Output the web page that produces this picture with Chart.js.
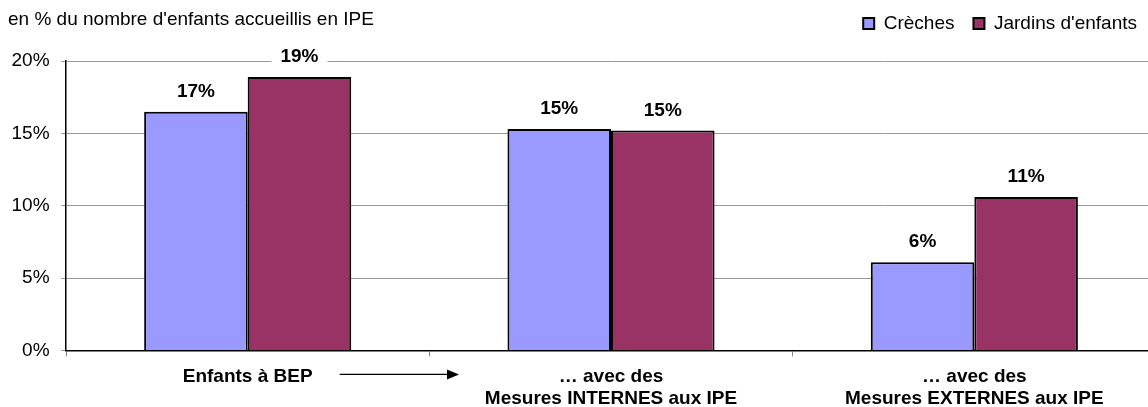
<!DOCTYPE html>
<html>
<head>
<meta charset="utf-8">
<script src="https://cdn.jsdelivr.net/npm/chart.js@4"></script>
<style>
  html, body { margin: 0; padding: 0; overflow: hidden; background: #fff; }
  #wrap { position: relative; width: 1156px; height: 407px; }
</style>
</head>
<body>
<div id="wrap"><canvas id="chart"></canvas></div>
<script>
var categories = [
    ['Enfants à BEP'],
    ['… avec des', 'Mesures INTERNES aux IPE'],
    ['… avec des', 'Mesures EXTERNES aux IPE']
];
var creches = [16.5, 15.3, 6.1];
var jardins = [18.9, 15.2, 10.6];
var seriesNames = ['Crèches', "Jardins d'enfants"];
var yTicks = [0, 5, 10, 15, 20];
var titleText = "en % du nombre d'enfants accueillis en IPE";

Chart.defaults.font.family = "'Liberation Sans', Arial, sans-serif";
Chart.defaults.font.size = 19;
Chart.defaults.color = '#000';

/**
 * Title at top left, value labels above bars, arrow under the first label
 */
var extras = {
    id: 'extras',
    beforeInit: function(chart) {
        var fit = chart.legend.fit;
        chart.legend.fit = function() {
            fit.bind(chart.legend)();
            this.height += 18;
        };
    },
    afterDatasetsDraw: function(chart) {
        var ctx = chart.ctx;
        ctx.save();
        ctx.font = "bold 19px 'Liberation Sans', Arial, sans-serif";
        ctx.textAlign = 'center';
        ctx.textBaseline = 'middle';
        chart.data.datasets.forEach(function(ds, i) {
            chart.getDatasetMeta(i).data.forEach(function(bar, j) {
                var txt = Math.round(ds.data[j]) + '%';
                var w = ctx.measureText(txt).width;
                var y = bar.y - 20;
                ctx.fillStyle = '#fff';
                ctx.fillRect(bar.x - w / 2 - 9, y - 10, w + 18, 20);
                ctx.fillStyle = '#000';
                ctx.fillText(txt, bar.x, y);
            });
        });
        ctx.restore();
    },
    afterDraw: function(chart) {
        var ctx = chart.ctx;
        var x = chart.scales.x;
        ctx.save();
        ctx.font = "19px 'Liberation Sans', Arial, sans-serif";
        ctx.textAlign = 'left';
        ctx.textBaseline = 'middle';
        ctx.fillStyle = '#000';
        ctx.fillText(titleText, 8, 20);

        // arrow from "Enfants à BEP" toward the next label
        var x0 = x.getPixelForValue(0) + 92;
        var x1 = x.getPixelForValue(1) - 152;
        var y = x.top + 24;
        ctx.strokeStyle = '#000';
        ctx.lineWidth = 1.2;
        ctx.beginPath();
        ctx.moveTo(x0, y);
        ctx.lineTo(x1 - 10, y);
        ctx.stroke();
        ctx.beginPath();
        ctx.moveTo(x1, y);
        ctx.lineTo(x1 - 12, y - 5);
        ctx.lineTo(x1 - 12, y + 5);
        ctx.closePath();
        ctx.fill();
        ctx.restore();
    }
};

var barData = {
    labels: categories,
    datasets: [
        {
            label: seriesNames[0],
            backgroundColor: '#9999FF',
            borderColor: '#000',
            borderWidth: 2,
            data: creches
        },
        {
            label: seriesNames[1],
            backgroundColor: '#993366',
            borderColor: '#000',
            borderWidth: 2,
            data: jardins
        }
    ]
};

var barOptions = {
    responsive: true,
    maintainAspectRatio: false,
    animation: false,
    categoryPercentage: 0.57,
    barPercentage: 1,
    layout: { padding: { left: 0, right: 0, top: -5, bottom: -12 } },
    plugins: {
        legend: {
            position: 'top',
            align: 'end',
            labels: {
                boxWidth: 11,
                boxHeight: 11,
                padding: 19,
                color: '#000',
                font: { size: 19 }
            }
        },
        tooltip: { enabled: false }
    },
    scales: {
        x: {
            offset: true,
            grid: {
                offset: true,
                drawOnChartArea: false,
                tickLength: 6,
                color: '#888'
            },
            border: { color: '#000', width: 1.5 },
            ticks: {
                padding: 10,
                maxRotation: 0,
                autoSkip: false,
                color: '#000',
                font: { size: 19, weight: 'bold', lineHeight: 1.12 }
            }
        },
        y: {
            min: 0,
            max: 20,
            afterBuildTicks: function(scale) {
                scale.ticks = yTicks.map(function(v) { return { value: v }; });
            },
            grid: {
                color: '#999',
                tickLength: 5,
                lineWidth: 1
            },
            border: { color: '#000', width: 1.5 },
            ticks: {
                padding: 11.5,
                color: '#000',
                font: { size: 19 },
                callback: function(v) { return v + '%'; }
            }
        }
    }
};

var ctx = document.getElementById('chart').getContext('2d');
new Chart(ctx, { type: 'bar', data: barData, options: barOptions, plugins: [extras] });
</script>
</body>
</html>
